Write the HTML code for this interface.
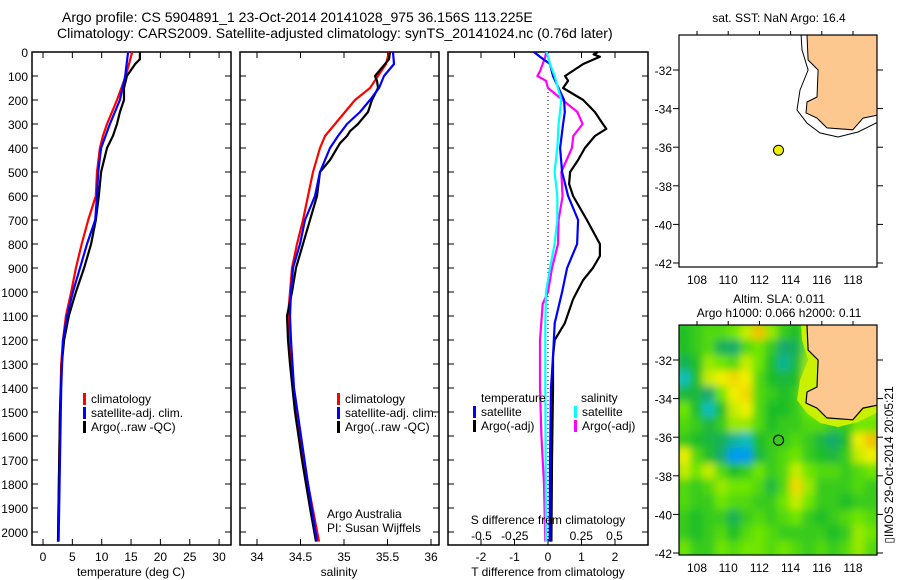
<!DOCTYPE html>
<html><head><meta charset="utf-8"><style>
html,body{margin:0;padding:0;background:#fff;}
svg{display:block;font-family:"Liberation Sans",sans-serif;}
text{fill:#000;}
</style></head><body>
<svg id="fig" width="900" height="580" viewBox="0 0 900 580" xmlns="http://www.w3.org/2000/svg">
<defs>
<clipPath id="clipMap2"><rect x="679" y="325" width="198" height="230"/></clipPath>
<clipPath id="clipMap1"><rect x="679" y="35" width="198" height="232"/></clipPath>
<filter id="blur" x="-5%" y="-5%" width="110%" height="110%"><feGaussianBlur stdDeviation="4"/></filter>
</defs>
<text x="62" y="22" font-size="14">Argo profile: CS 5904891_1 23-Oct-2014 20141028_975 36.156S 113.225E</text>
<text x="57" y="38" font-size="14">Climatology: CARS2009. Satellite-adjusted climatology: synTS_20141024.nc (0.76d later)</text>
<g id="g1"></g>
<g id="g2"></g>
<g id="g3"></g>
<g id="m1"></g>
<g id="m2"></g>
<text x="779" y="22" font-size="12" text-anchor="middle">sat. SST: NaN Argo: 16.4</text>
<text x="779" y="303" font-size="12" text-anchor="middle">Altim. SLA: 0.011</text>
<text x="779" y="317" font-size="12" text-anchor="middle">Argo h1000: 0.066 h2000: 0.11</text>
<text x="0" y="0" font-size="12" text-anchor="middle" transform="translate(893,465) rotate(-90)">▯IMOS 29-Oct-2014 20:05:21</text>
</svg>
<script>
// ---- depth data (dbar) and values ----
const tClimDepth=[0,100,200,300,350,400,500,600,700,800,900,1000,1100,1200,1300,1500,1800,2040];
const tClim=[15.2,14.1,12.6,10.9,10.2,9.7,9.2,9.0,7.7,6.6,5.6,4.8,3.9,3.4,3.1,2.9,2.7,2.55];
const tSatDepth=[0,100,200,300,400,500,600,700,800,900,1000,1100,1200,1400,2040];
const tSat=[14.5,14.0,13.1,11.4,9.9,9.4,9.2,8.9,7.5,6.3,5.1,4.1,3.4,3.1,2.65];
const tArgoDepth=[0,30,50,100,150,200,250,300,350,400,500,600,700,800,900,1000,1100,1200,1300,1500,2040];
const tArgo=[16.5,16.5,15.7,14.3,13.8,13.8,13.1,12.6,11.9,10.9,9.9,9.5,9.0,8.2,7.0,5.6,4.4,3.6,3.2,2.9,2.55];
const sClimDepth=[0,50,100,150,200,250,300,350,400,500,600,700,800,900,1000,1100,1200,1400,1600,1800,2040];
const sClim=[35.517,35.483,35.391,35.299,35.126,35.011,34.897,34.782,34.724,34.644,34.586,34.529,34.46,34.402,34.379,34.356,34.368,34.414,34.494,34.586,34.713];
const sSat=[35.563,35.575,35.46,35.402,35.299,35.184,35.034,34.931,34.839,34.724,34.667,34.552,34.494,34.414,34.391,34.379,34.391,34.425,34.506,34.586,34.69];
const sArgoDepth=[0,30,60,100,120,150,200,250,300,330,350,380,450,500,600,700,800,900,1000,1100,1200,1300,1500,1700,1900,2040];
const sArgo=[35.529,35.517,35.448,35.356,35.379,35.391,35.322,35.276,35.161,35.069,35.034,34.954,34.839,34.724,34.69,34.609,34.529,34.448,34.402,34.345,34.356,34.379,34.437,34.517,34.609,34.678];
const dTSatDepth=[0,20,50,100,200,250,300,400,500,600,700,800,900,1000,1130,1270,1400,1700,2040];
const dTSat=[-0.42,-0.24,0.06,0.15,0.48,0.5,0.45,0.36,0.42,0.6,0.9,0.87,0.57,0.42,0.2,0.15,0.09,0.06,0.05];
const dTArgoDepth=[0,10,20,50,100,120,150,200,250,300,320,350,400,450,500,550,600,700,800,850,900,950,1000,1030,1130,1200,1270,1400,1700,2040];
const dTArgo=[1.49,1.36,1.55,1.05,0.51,0.6,0.45,1.05,1.4,1.64,1.74,1.4,1.1,0.9,0.66,0.63,0.75,1.16,1.55,1.55,1.34,1.05,0.86,0.75,0.5,0.2,0.15,0.15,0.12,0.1];
const dSSatDepth=[0,50,100,200,300,400,500,600,700,800,900,1000,1130,1400,2040];
const dSSat=[-0.01,0.015,0.05,0.1,0.08,0.07,0.05,0.07,0.07,0.05,0.015,-0.015,-0.02,-0.02,-0.015];
const dSArgoDepth=[0,20,50,80,100,120,150,200,250,300,350,400,450,500,600,700,800,900,1000,1050,1200,1400,1600,1800,2040];
const dSArgo=[-0.015,-0.02,-0.04,-0.06,-0.08,-0.015,0.0,0.11,0.22,0.26,0.19,0.18,0.14,0.1,0.11,0.08,0.075,0.03,0.0,-0.04,-0.06,-0.06,-0.05,-0.03,-0.02];
const depthTicks=[0,100,200,300,400,500,600,700,800,900,1000,1100,1200,1300,1400,1500,1600,1700,1800,1900,2000];
const tTicks=[0,5,10,15,20,25,30];
const sTicks=[34,34.5,35,35.5,36];
const dTTicks=[-2,-1,0,1,2];
const dSTicks=[-0.5,-0.25,0,0.25,0.5];
const dSTickLabels=["-0.5","-0.25","0","0.25","0.5"];
// ---- map data ----
const latTicks=[-32,-34,-36,-38,-40,-42];
const lonTicks=[108,110,112,114,116,118];
const floatLon=[113.225];
const floatLat=[-36.156];
const landLon=[115.05,115.05,115.12,115.76,115.69,115.05,114.99,115.69,116.33,117.99,118.64,119.6,119.6];
const landLat=[-29.9,-30.19,-31.48,-32.0,-33.4,-33.66,-34.23,-34.49,-35.0,-35.1,-34.49,-34.33,-29.9];
const shelfLon=[114.67,114.67,114.73,115.12,114.6,114.41,115.05,115.88,117.04,118.32,119.6,119.6];
const shelfLat=[-29.9,-30.19,-30.96,-32.0,-33.04,-34.07,-34.75,-35.26,-35.47,-35.21,-34.7,-29.9];
const slaLon=[107.2,108.0,108.8,109.6,110.4,111.2,112.0,112.8,113.6,114.4,115.2,116.0,116.8,117.6,118.4,119.2];
const slaLat=[-30.6,-31.4,-32.2,-33.0,-33.8,-34.6,-35.4,-36.2,-37.0,-37.8,-38.6,-39.4,-40.2,-41.0,-41.8];
const slaGrid=[
[.45,.5,.55,.55,.6,.7,.85,.65,.5,.45,.6,.7,.7,.7,.7,.7],
[.45,.5,.55,.35,.3,.55,.6,.5,.3,.35,.6,.7,.7,.7,.7,.7],
[.35,.45,.65,.6,.55,.7,.6,.45,.25,.4,.65,.7,.7,.7,.7,.7],
[.2,.45,.7,.75,.8,.75,.55,.45,.4,.45,.7,.7,.7,.7,.7,.7],
[.4,.4,.3,.6,.75,.8,.55,.5,.45,.5,.7,.7,.7,.7,.7,.7],
[.6,.45,.2,.45,.7,.75,.55,.45,.45,.5,.6,.65,.65,.65,.65,.65],
[.55,.5,.4,.5,.65,.65,.55,.45,.5,.5,.55,.55,.5,.5,.6,.6],
[.5,.45,.4,.35,.25,.2,.45,.5,.5,.55,.5,.4,.3,.45,.75,.85],
[.75,.55,.45,.3,.1,.1,.4,.5,.55,.6,.5,.45,.4,.5,.7,.75],
[.7,.6,.7,.55,.45,.5,.6,.5,.55,.7,.6,.55,.55,.5,.55,.6],
[.55,.5,.55,.65,.6,.6,.55,.4,.55,.8,.65,.5,.5,.5,.55,.5],
[.55,.5,.5,.6,.55,.55,.5,.5,.6,.7,.6,.5,.5,.45,.5,.5],
[.5,.45,.5,.5,.35,.5,.55,.5,.55,.6,.5,.45,.5,.55,.6,.55],
[.5,.45,.5,.55,.45,.55,.6,.55,.5,.5,.5,.5,.45,.5,.65,.6],
[.6,.5,.5,.6,.55,.6,.6,.55,.6,.55,.5,.55,.5,.55,.65,.55]];

const NS='http://www.w3.org/2000/svg';
function mk(tag,attrs,parent){const e=document.createElementNS(NS,tag);for(const k in attrs)e.setAttribute(k,attrs[k]);parent.appendChild(e);return e;}
const yD=p=>52+p*0.24;
const xT=v=>43+5.87*v;
const xS=v=>257+87*(v-34);
const xDT=v=>548+33.5*v;
const xDS=v=>548+133*v;

function frame(g,x0,x1,name){
  const r=mk('rect',{x:x0,y:52,width:x1-x0,height:493,fill:'none',stroke:'#000','stroke-width':1.5},g);
  
  
  depthTicks.forEach(d=>{
    mk('line',{x1:x0,x2:x0+6,y1:yD(d),y2:yD(d),stroke:'#000'},g);
    mk('line',{x1:x1-6,x2:x1,y1:yD(d),y2:yD(d),stroke:'#000'},g);
  });
}
function xticks(g,ticks,labels,fx,ly,name){
  ticks.forEach((t,i)=>{
    const x=fx(t);
    mk('line',{x1:x,x2:x,y1:52,y2:58,stroke:'#000'},g);
    mk('line',{x1:x,x2:x,y1:539,y2:545,stroke:'#000'},g);
    const tx=mk('text',{x:x,y:ly,'font-size':12,'text-anchor':'middle'},g);
    tx.textContent=labels[i];
    
    
  });
}
function profile(g,depths,vals,fx,color,w,name){
  let d='';
  depths.forEach((p,i)=>{d+=(i?'L':'M')+fx(vals[i]).toFixed(1)+','+yD(p).toFixed(1);});
  const pth=mk('path',{d:d,fill:'none',stroke:color,'stroke-width':w,'stroke-linejoin':'round'},g);
  
  
}
function legend(g,x,y,items,color){
  const bar=mk('rect',{x:x,y:y-10,width:3,height:12,fill:color},g);
  
  
  const t=mk('text',{x:x+8,y:y,'font-size':12},g);
  t.textContent=items;
  
  
}
function label(g,x,y,str,anchor,name){
  const t=mk('text',{x:x,y:y,'font-size':12,'text-anchor':anchor},g);
  t.textContent=str;
  
  
}

// Panel 1
const g1=document.getElementById('g1');
frame(g1,32,231,'temperature-axes-frame');
depthTicks.forEach(d=>{
  const t=mk('text',{x:28,y:yD(d)+5,'font-size':12,'text-anchor':'end'},g1);
  t.textContent=d;
  
  
});
xticks(g1,tTicks,tTicks.map(String),xT,561,'temperature-tick-label');
profile(g1,tClimDepth,tClim,xT,'#f00',2.2,'temperature-climatology-line');
profile(g1,tArgoDepth,tArgo,xT,'#000',2.2,'temperature-argo-line');
profile(g1,tSatDepth,tSat,xT,'#00f',2.2,'temperature-satellite-line');
legend(g1,83,403,'climatology','#f00');
legend(g1,83,417,'satellite-adj. clim.','#00f');
legend(g1,83,431,'Argo(..raw -QC)','#000');
label(g1,131,576,'temperature (deg C)','middle','temperature-axis-title');

// Panel 2
const g2=document.getElementById('g2');
frame(g2,240,439,'salinity-axes-frame');
xticks(g2,sTicks,sTicks.map(String),xS,561,'salinity-tick-label');
profile(g2,sClimDepth,sClim,xS,'#f00',2.2,'salinity-climatology-line');
profile(g2,sArgoDepth,sArgo,xS,'#000',2.2,'salinity-argo-line');
profile(g2,sClimDepth,sSat,xS,'#00f',2.2,'salinity-satellite-line');
legend(g2,337,403,'climatology','#f00');
legend(g2,337,417,'satellite-adj. clim.','#00f');
legend(g2,337,431,'Argo(..raw -QC)','#000');
label(g2,327,518,'Argo Australia','start','credit-text');
label(g2,327,532,'PI: Susan Wijffels','start','pi-text');
label(g2,339,576,'salinity','middle','salinity-axis-title');

// Panel 3
const g3=document.getElementById('g3');
frame(g3,448,648,'difference-axes-frame');
mk('line',{x1:548,x2:548,y1:yD(150),y2:545,stroke:'#000','stroke-dasharray':'1,3'},g3);
xticks(g3,dTTicks,dTTicks.map(String),xDT,561,'t-difference-tick-label');
dSTicks.forEach((t,i)=>{label(g3,xDS(t),540,dSTickLabels[i],'middle','s-difference-tick-label');});
profile(g3,dTArgoDepth,dTArgo,xDT,'#000',2.2,'t-diff-argo-line');
profile(g3,dSArgoDepth,dSArgo,xDS,'#f0f',2.2,'s-diff-argo-line');
profile(g3,dTSatDepth,dTSat,xDT,'#00f',2.2,'t-diff-satellite-line');
profile(g3,dSSatDepth,dSSat,xDS,'#0ff',2.2,'s-diff-satellite-line');
label(g3,481,402,'temperature','start','legend-header-temperature');
label(g3,581,402,'salinity','start','legend-header-salinity');
legend(g3,473,416,'satellite','#00f');
legend(g3,473,430,'Argo(-adj)','#000');
legend(g3,574,416,'satellite','#0ff');
legend(g3,574,430,'Argo(-adj)','#f0f');
label(g3,548,524,'S difference from climatology','middle','s-difference-axis-title');
label(g3,548,576,'T difference from climatology','middle','t-difference-axis-title');

// Maps
function mapAxes(g,y0,y1,latY,name){
  const lonX=l=>697+(l-108)*15.6;
  const r=mk('rect',{x:679,y:y0,width:198,height:y1-y0,fill:'none',stroke:'#000','stroke-width':1.2},g);
  
  
  latTicks.forEach(l=>{
    const y=latY(l);
    mk('line',{x1:673,x2:679,y1:y,y2:y,stroke:'#000'},g);
    mk('line',{x1:877,x2:883,y1:y,y2:y,stroke:'#000'},g);
    label(g,672,y+5,String(l),'end','latitude-tick-label');
  });
  lonTicks.forEach(l=>{
    const x=lonX(l);
    mk('line',{x1:x,x2:x,y1:y0-4,y2:y0,stroke:'#000'},g);
    label(g,x,y1+17,String(l),'middle','longitude-tick-label');
  });
}
function poly(g,lons,lats,lonX,latY,attrs,name){
  const pts=lons.map((l,i)=>lonX(l).toFixed(1)+','+latY(lats[i]).toFixed(1)).join(' ');
  attrs.points=pts;
  const p=mk('polygon',attrs,g);
  
  
  return p;
}
const lonX=l=>697+(l-108)*15.6;
const lat1=l=>70+(-32-l)*19.3;
const lat2=l=>360+(-32-l)*19.3;

const m1=document.getElementById('m1');
const c1=mk('g',{'clip-path':'url(#clipMap1)'},m1);
poly(c1,shelfLon,shelfLat,lonX,lat1,{fill:'#fff',stroke:'#000','stroke-width':1},'isobath-line');
poly(c1,landLon,landLat,lonX,lat1,{fill:'#fcc890',stroke:'#000','stroke-width':1},'australia-land');
mapAxes(m1,35,267,lat1,'sst-map-frame');
const f1=mk('circle',{cx:lonX(floatLon[0]),cy:lat1(floatLat[0]),r:5,fill:'#ee0',stroke:'#000','stroke-width':1},m1);



const m2=document.getElementById('m2');
function cmap(v){
  const st=[[0,[16,64,255]],[0.15,[0,200,230]],[0.3,[20,170,110]],[0.45,[30,190,40]],[0.6,[110,230,0]],[0.75,[240,240,0]],[0.9,[245,170,0]],[1,[240,120,0]]];
  for(let i=1;i<st.length;i++){if(v<=st[i][0]){const a=st[i-1],b=st[i];const f=(v-a[0])/(b[0]-a[0]);
    return 'rgb('+a[1].map((c,k)=>Math.round(c+(b[1][k]-c)*f)).join(',')+')';}}
  return 'rgb(240,120,0)';
}
const c2=mk('g',{'clip-path':'url(#clipMap2)'},m2);
const hg=mk('g',{filter:'url(#blur)'},c2);
mk('rect',{x:670,y:315,width:215,height:250,fill:cmap(0.5)},hg);
slaLat.forEach((la,r)=>{slaLon.forEach((lo,c)=>{
  const cell=mk('rect',{x:lonX(lo-0.45),y:lat2(la+0.45),width:0.9*15.6+0.5,height:0.9*19.3+0.5,fill:cmap(slaGrid[r][c])},hg);
  
  
});});
poly(c2,shelfLon,shelfLat,lonX,lat2,{fill:'#c8f000',stroke:'none'},'shelf-band');
poly(c2,landLon,landLat,lonX,lat2,{fill:'#fcc890',stroke:'#000','stroke-width':1.2},'australia-land-sla');
mapAxes(m2,325,555,lat2,'sla-map-frame');
const f2=mk('circle',{cx:lonX(floatLon[0]),cy:lat2(floatLat[0]),r:5,fill:'none',stroke:'#000','stroke-width':1.2},m2);


</script>
</body></html>
